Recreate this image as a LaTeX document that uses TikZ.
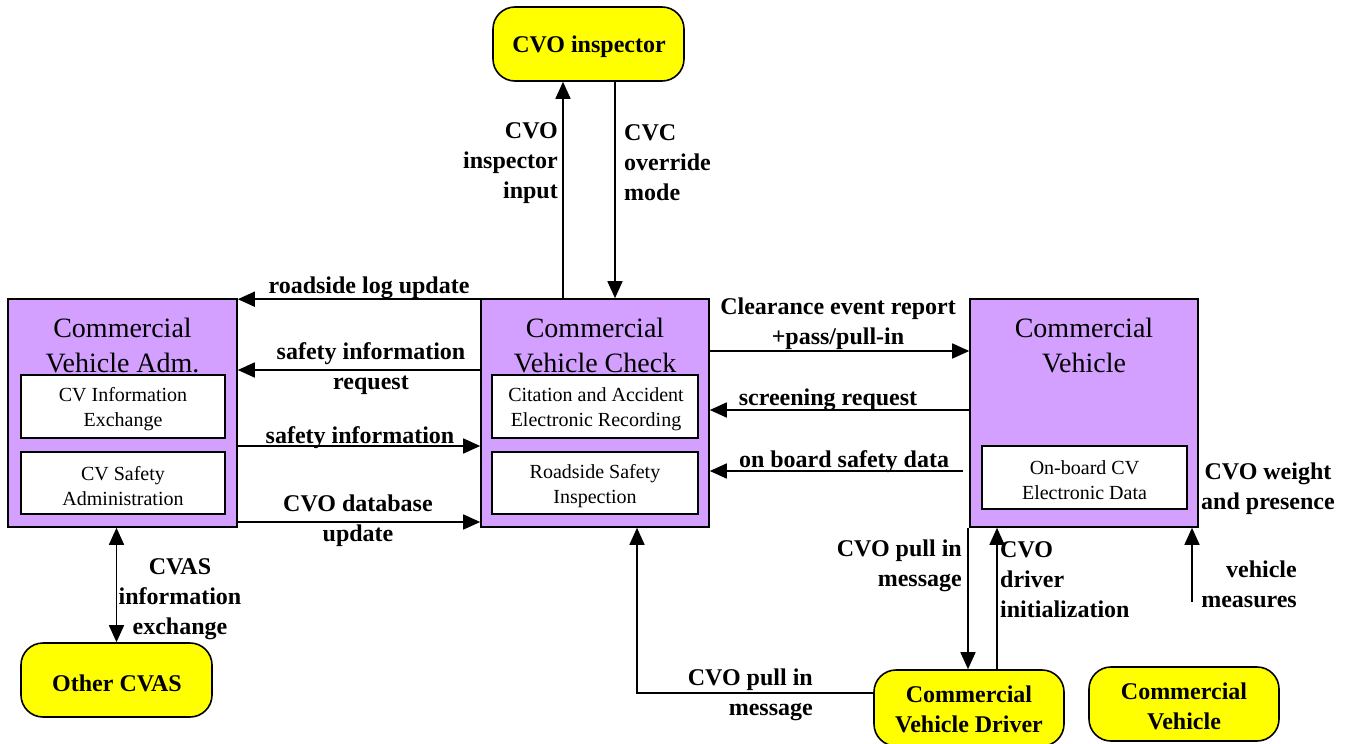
\documentclass[tikz,border=0pt]{standalone}
\usepackage{fontspec}
\setmainfont{Liberation Serif}
\usetikzlibrary{arrows.meta,calc}
\definecolor{boxpurple}{RGB}{212,160,255}
\definecolor{boxyellow}{RGB}{255,255,0}
\tikzset{
  purplebox/.style={draw=black,line width=1.6pt,fill=boxpurple,inner sep=0pt},
  innerbox/.style={draw=black,line width=1.6pt,fill=white,inner sep=0pt},
  innertext/.style={inner sep=0pt,align=center,font=\fontsize{20}{25}\selectfont},
  yellowbox/.style={draw=black,line width=1.6pt,fill=boxyellow,rounded corners=22pt,inner sep=0pt},
  yellowtext/.style={inner sep=0pt,align=center,font=\fontsize{24}{30}\selectfont\bfseries},
  titletext/.style={inner sep=0pt,align=center,font=\fontsize{28}{35}\selectfont},
  lbl/.style={inner sep=0pt,font=\fontsize{24}{30}\selectfont\bfseries},
  arr/.style={line width=1.6pt,-{Triangle[length=17pt,width=15pt]}},
  darr/.style={line width=1.6pt,{Triangle[length=17pt,width=15pt]}-{Triangle[length=17pt,width=15pt]}},
}
\begin{document}
\begin{tikzpicture}[x=1pt,y=-1pt]
\useasboundingbox (0,0) rectangle (1350,744);
% main boxes
\node[purplebox,minimum width=229pt,minimum height=228pt] (cva) at (122.5,413) {};
\node[purplebox,minimum width=228pt,minimum height=228pt] (cvc) at (595,413) {};
\node[purplebox,minimum width=228pt,minimum height=228pt] (cv) at (1084,413) {};
\node[titletext] (cvat) at (122.5,345) {Commercial\\Vehicle Adm.};
\node[titletext] (cvct) at (595,345) {Commercial\\Vehicle Check};
\node[titletext] (cvt) at (1084,345) {Commercial\\Vehicle};
% inner boxes
\node[innerbox,minimum width=204pt,minimum height=63pt] (cvie) at (123,406.5) {};
\node[innertext] (cviet) at (123,409) {CV Information\\Exchange};
\node[innerbox,minimum width=204pt,minimum height=62pt] (cvsa) at (123,483) {};
\node[innertext] (cvsat) at (123,486) {CV Safety\\Administration};
\node[innerbox,minimum width=206pt,minimum height=63pt] (caer) at (595,406.5) {};
\node[innertext] (caert) at (596,409) {Citation and Accident\\Electronic Recording};
\node[innerbox,minimum width=206pt,minimum height=62pt] (rsi) at (595,483) {};
\node[innertext] (rsit) at (595,486) {Roadside Safety\\Inspection};
\node[innerbox,minimum width=205pt,minimum height=63pt] (obd) at (1084.5,477.5) {};
\node[innertext] (obdt) at (1084.5,480) {On-board CV\\Electronic Data};
% terminators
\node[yellowbox,minimum width=191pt,minimum height=74pt] (insp) at (588.5,44) {};
\node[yellowtext] (inspt) at (589,47) {CVO inspector};
\node[yellowbox,minimum width=191pt,minimum height=74pt] (ocvas) at (116.5,680) {};
\node[yellowtext] (ocvast) at (117,683) {Other CVAS};
\node[yellowbox,minimum width=190pt,minimum height=76pt] (drv) at (969,708) {};
\node[yellowtext] (drvt) at (969,709) {Commercial\\Vehicle Driver};
\node[yellowbox,minimum width=190pt,minimum height=74pt] (cveh) at (1184,704) {};
\node[yellowtext] (cveht) at (1184,706) {Commercial\\Vehicle};
\coordinate (vm) at (1192,602);
% connectors
\draw[arr] ([xshift=-32pt]cvc.north) -- ([xshift=-32pt]cvc.north |- insp.south);
\draw[arr] ([xshift=20pt]cvc.north |- insp.south) -- ([xshift=20pt]cvc.north);
\draw[arr] ([yshift=-1pt]cvc.north west) -- ([yshift=-1pt]cva.north east);
\draw[arr] ([yshift=43pt]cvc.west) -- ([yshift=43pt]cva.east);
\draw[arr] ([yshift=-33pt]cva.east) -- ([yshift=-33pt]cvc.west);
\draw[arr] ([yshift=-109pt]cva.east) -- ([yshift=-109pt]cvc.west);
\draw[arr] ([yshift=62pt]cvc.east) -- ([yshift=62pt]cv.west);
\draw[arr] ([yshift=3pt]cv.west) -- ([yshift=3pt]cvc.east);
\draw[arr] ([xshift=-6pt,yshift=-58pt]cv.west) -- ([yshift=-58pt]cvc.east);
\draw[arr] ([xshift=-116pt]cv.south) -- ([xshift=-116pt]cv.south |- drv.north);
\draw[arr] ([xshift=-87pt]cv.south |- drv.north) -- ([xshift=-87pt]cv.south);
\draw[arr] (vm) -- (vm |- cv.south);
\draw[arr] ([yshift=15pt]drv.west) -| ([xshift=42pt]cvc.south);
\draw[darr] (ocvas.north |- cva.south) -- (ocvas.north);
% labels
\begin{scope}[yshift=-3pt]
\node[lbl] (l1) at (369,285) {roadside log update};
\node[lbl,align=center] (l2) at (371,366) {safety information\\request};
\node[lbl] (l3) at (360,435) {safety information};
\node[lbl,align=center] (l4) at (358,518) {CVO database\\update};
\node[lbl,align=center] (l5) at (838,321) {Clearance event report\\+pass/pull-in};
\node[lbl] (l6) at (828,397) {screening request};
\node[lbl] (l7) at (844,459) {on board safety data};
\node[lbl,align=right,anchor=east] (l8) at (558,160) {CVO\\inspector\\input};
\node[lbl,align=left,anchor=west] (l9) at (624,160) {CVC\\override\\mode};
\node[lbl,align=right,anchor=east] (l10) at (962,563) {CVO pull in\\message};
\node[lbl,align=left,anchor=west] (l11) at (1000,577) {CVO\\driver\\initialization};
\node[lbl,align=right,anchor=east] (l12) at (1297,581) {vehicle\\measures};
\node[lbl,align=center] (l13) at (1268,486) {CVO weight\\and presence};
\node[lbl,align=right,anchor=east] (l14) at (813,692) {CVO pull in\\message};
\node[lbl,align=center] (l15) at (180,596) {CVAS\\information\\exchange};
\end{scope}
\end{tikzpicture}
\end{document}
